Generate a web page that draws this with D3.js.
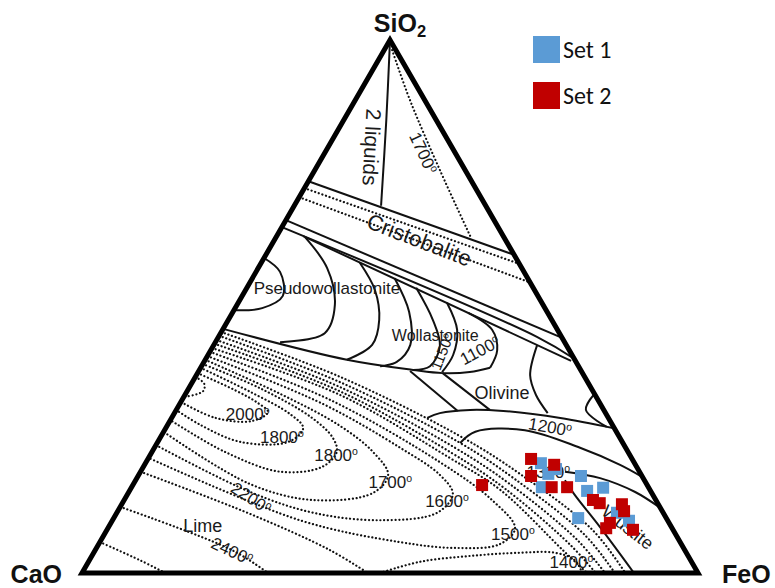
<!DOCTYPE html>
<html><head><meta charset="utf-8">
<script src="https://cdn.jsdelivr.net/npm/d3@7"></script>
<style>body{margin:0;background:#fff}svg{display:block}</style>
</head><body>
<svg id="chart" width="775" height="588"></svg>
<script>
// ---------- data (wt%) ----------
const components = ["SiO2", "CaO", "FeO"];
const seriesNames = ["Set 1", "Set 2"];
const set1SiO2 = [20.6, 19.5, 18.6, 16.1, 18.2, 15.4, 16.0, 10.3, 11.3, 9.8];
const set1CaO  = [15.2, 13.3, 15.0, 17.3,  9.9, 10.3,  7.4, 14.3,  7.5, 6.3];
const set1FeO  = [64.2, 67.2, 66.4, 66.6, 71.9, 74.3, 76.6, 75.4, 81.2, 83.9];
const set2SiO2 = [21.4, 18.2, 20.3, 16.1, 16.1, 13.7, 13.1, 12.9, 11.6,  9.4,  8.4,  8.1, 16.5];
const set2CaO  = [16.4, 18.0, 13.2, 15.7, 13.2, 10.2,  9.4,  5.9,  6.2,  9.6, 10.7,  6.5, 26.8];
const set2FeO  = [62.2, 63.8, 66.5, 68.2, 70.7, 76.1, 77.5, 81.2, 82.2, 81.0, 80.9, 85.4, 56.7];

// phase-diagram linework, points as [SiO2, FeO] (CaO = rest)
const solidBoundaries = [
  [[100,0],[85.0,6.9],[68.9,14.1]],
  [[73.5,0],[59.7,40.3]],
  [[66.2,0],[44.1,55.9]],
  [[64.9,0],[44.3,51.7],[40.2,59.8]],
  [[63.2,4.3],[39.8,59.5]],
  [[59.1,0],[56.5,3.9],[52.0,6.6],[49.7,4.4],[49.3,0]],
  [[63.0,4.7],[57.2,11.2],[50.3,15.9],[45.0,16.9],[43.3,10.5]],
  [[45.8,0],[40.0,23.0],[38.1,34.7],[37.5,39.8],[37.7,44.1],[38.5,47.0]],
  [[58.2,16.0],[53.1,21.0],[47.5,24.5],[42.8,25.7],[40.0,23.0]],
  [[55.3,23.1],[49.0,28.6],[42.8,31.9],[39.6,31.3],[38.8,29.0]],
  [[53.5,27.5],[47.5,33.2],[42.6,36.8],[38.8,37.1],[38.1,34.7]],
  [[50.7,33.9],[45.6,38.1],[40.9,39.8],[37.7,39.6]],
  [[48.8,38.3],[45.6,43.8],[41.8,46.5],[38.5,47.0]],
  [[42.8,52.5],[37.1,54.2],[33.4,57.0],[30.0,60.6]],
  [[33.6,66.4],[30.6,66.5],[27.4,71.5]],
  [[37.9,34.3],[30.4,45.8]],
  [[37.5,39.8],[30.6,50.9]],
  [[29.1,41.5],[30.0,43.1],[30.6,47.7],[30.4,53.2],[29.1,63.1],[27.2,72.6]],
  [[24.4,49.2],[26.5,50.6],[26.8,58.5],[23.5,69.1],[20.3,77.2],[18.0,82.0]],
  [[19.0,68.9],[17.8,75.2],[15.2,82.2],[12.2,87.8]],
  [[17.4,69.7],[14.8,72.5],[8.6,79.8],[0,89.6]]
];
const dottedIsotherms = [
  [[98.1,1.3],[88.7,8.9],[75.6,20.3],[62.9,31.7]],
  [[72.2,0],[58.0,42.0]],
  [[70.5,0],[54.5,45.5]],
  [[45.2,0],[36.8,23.5],[25.7,48.5],[18.6,61.8],[8.1,78.8],[0,88.2]],
  [[44.5,0],[35.8,24.0],[24.6,48.8],[17.6,61.5],[7.1,78.1],[0,86.5]],
  [[43.7,0],[34.9,24.4],[23.5,48.8],[16.7,61.1],[6.2,77.3],[0,84.9]],
  [[43.0,0],[34.1,24.8],[22.5,48.8],[15.8,60.8],[5.3,76.6],[0,83.4]],
  [[42.2,0],[33.4,25.2],[21.6,48.9],[15.6,60.1],[4.3,75.9],[0,82.0]],
  [[36.8,0],[35.5,2.1],[34.1,2.6],[33.0,0]],
  [[37.5,0],[34.3,7.7],[31.9,12.6],[30.2,15.1],[28.5,13.3],[29.1,7.1],[32.1,0]],
  [[38.5,0],[34.0,10.3],[29.8,18.9],[27.2,22.3],[24.6,21.2],[24.6,13.4],[27.8,5.3],[30.6,0]],
  [[39.2,0],[34.7,11.5],[29.1,22.8],[25.3,28.1],[22.7,30.0],[19.9,29.0],[19.0,22.7],[22.7,11.9],[28.7,0]],
  [[40.0,0],[33.6,15.4],[27.6,28.1],[22.7,35.9],[18.4,40.5],[15.0,39.7],[13.7,30.6],[16.7,18.9],[26.5,0]],
  [[40.7,0],[31.7,23.3],[23.5,39.9],[18.4,48.9],[14.8,52.8],[11.3,52.0],[9.9,43.4],[11.3,31.9],[15.2,19.7],[24.0,0]],
  [[41.5,0],[32.5,24.0],[20.8,47.7],[13.7,59.7],[8.4,66.1],[5.4,65.1],[4.7,58.2],[5.8,48.7],[9.9,30.4],[21.6,0]],
  [[0,48.4],[2.1,53.8],[3.2,61.4],[3.8,69.2],[3.8,74.9],[2.4,78.8],[0,81.2]],
  [[19.0,0],[11.1,21.7],[4.3,38.1],[0,46.4]],
  [[12.4,0],[4.3,22.2],[0,30.2]],
  [[5.8,0],[2.4,8.2],[0,13.5]]
];
const fieldLabels = [
  {t:"2 liquids", si:79.9, fe:7.1, s:21, r:93},
  {t:"1700", deg:1, si:78.8, fe:16.0, s:17, r:65},
  {t:"Cristobalite", si:62.5, fe:23.5, s:22, r:21},
  {t:"Pseudowollastonite", si:53.5, fe:13.0, s:17, r:0},
  {t:"Wollastonite", si:44.5, fe:35.1, s:16, r:0},
  {t:"1150", deg:1, si:41.5, fe:37.7, s:15, r:-68},
  {t:"1100", deg:1, si:41.8, fe:43.7, s:17, r:-28},
  {t:"Olivine", si:33.8, fe:51.3, s:18, r:0},
  {t:"1200", deg:1, si:27.4, fe:62.3, s:17, r:10},
  {t:"1300", deg:1, si:19.0, fe:66.2, s:17, r:0},
  {t:"Wüstite", si:8.6, fe:84.3, s:18, r:38},
  {t:"2000", deg:1, si:29.8, fe:12.0, s:17, r:0},
  {t:"1800", deg:1, si:25.5, fe:19.7, s:17, r:0},
  {t:"1800", deg:1, si:22.1, fe:30.2, s:17, r:0},
  {t:"1700", deg:1, si:17.1, fe:41.5, s:17, r:0},
  {t:"1600", deg:1, si:13.5, fe:52.5, s:17, r:0},
  {t:"1500", deg:1, si:7.3, fe:66.3, s:17, r:0},
  {t:"1400", deg:1, si:2.1, fe:78.4, s:17, r:0},
  {t:"2200", deg:1, si:14.1, fe:20.4, s:17, r:33},
  {t:"2400", deg:1, si:4.1, fe:22.3, s:17, r:25},
  {t:"Lime", si:8.8, fe:15.2, s:18, r:0}
];

// ---------- scales ----------
const svg = d3.select("#chart");
const siScale = d3.scaleLinear().domain([0,100]).range([573,40]);   // SiO2 -> height
const hScale  = d3.scaleLinear().domain([0,100]).range([82,698]);   // FeO + SiO2/2 -> horizontal
function tern(si, fe){ return [hScale(fe + si/2), siScale(si)]; }
function tern3(si, ca, fe){ const s = si+ca+fe; return tern(100*si/s, 100*fe/s); }
const colors = d3.scaleOrdinal().domain(seriesNames).range(["#5b9bd5", "#c00000"]);

const line = d3.line()
  .x(d => tern(d[0], d[1])[0])
  .y(d => tern(d[0], d[1])[1])
  .curve(d3.curveCatmullRom.alpha(0.5));

const font = "'Liberation Sans', Arial, Helvetica, sans-serif";

// dotted isotherms
svg.append("g").selectAll("path").data(dottedIsotherms).join("path")
  .attr("d", line).attr("fill", "none").attr("stroke", "#111")
  .attr("stroke-width", 2.2).attr("stroke-linecap", "round")
  .attr("stroke-dasharray", "0.1 3.7");

// solid boundaries
svg.append("g").selectAll("path").data(solidBoundaries).join("path")
  .attr("d", line).attr("fill", "none").attr("stroke", "#111")
  .attr("stroke-width", 2);

// labels
const lg = svg.append("g").attr("font-family", font).attr("fill", "#1a1a1a");
fieldLabels.forEach(L => {
  const p = tern(L.si, L.fe);
  const t = lg.append("text")
    .attr("transform", `translate(${p[0]},${p[1]}) rotate(${L.r})`)
    .attr("text-anchor", "middle").attr("dy", "0.35em")
    .attr("font-size", L.s);
  t.append("tspan").text(L.t);
  if (L.deg) t.append("tspan").text("o").attr("font-size", "0.62em").attr("dy", "-0.55em");
});

// triangle frame
const verts = [tern(100,0), tern(0,0), tern(0,100)];
svg.append("path")
  .attr("d", d3.line()(verts) + "Z")
  .attr("fill", "none").attr("stroke", "#000").attr("stroke-width", 5)
  .attr("stroke-linejoin", "miter");

// vertex labels
const vg = svg.append("g").attr("font-family", font).attr("font-weight", "bold")
  .attr("font-size", 25).attr("fill", "#111");
const tSi = vg.append("text").attr("x", verts[0][0] + 10).attr("y", verts[0][1] - 8)
  .attr("text-anchor", "middle");
tSi.append("tspan").text("SiO");
tSi.append("tspan").text("2").attr("font-size", "0.66em").attr("dy", "0.28em");
vg.append("text").attr("x", verts[1][0] - 20).attr("y", verts[1][1] + 10)
  .attr("text-anchor", "end").text("CaO");
vg.append("text").attr("x", verts[2][0] + 24).attr("y", verts[2][1] + 10)
  .attr("text-anchor", "start").text("FeO");

// data points
const series = [
  {name: seriesNames[0], si: set1SiO2, ca: set1CaO, fe: set1FeO},
  {name: seriesNames[1], si: set2SiO2, ca: set2CaO, fe: set2FeO}
];
const sz = 12;
series.forEach(s => {
  const pts = s.si.map((v, i) => tern3(v, s.ca[i], s.fe[i]));
  svg.append("g").selectAll("rect").data(pts).join("rect")
    .attr("x", d => d[0] - sz/2).attr("y", d => d[1] - sz/2)
    .attr("width", sz).attr("height", sz)
    .attr("fill", colors(s.name));
});

// legend
const leg = svg.append("g").attr("transform", "translate(533,36)");
seriesNames.forEach((n, i) => {
  const g = leg.append("g").attr("transform", `translate(0,${i*46})`);
  g.append("rect").attr("width", 27).attr("height", 27).attr("fill", colors(n));
  g.append("text").attr("x", 30).attr("y", 22)
    .attr("font-family", "Carlito, Calibri, Lato, 'Open Sans', sans-serif")
    .attr("font-size", 24).attr("fill", "#111").text(n);
});
</script>
</body></html>
